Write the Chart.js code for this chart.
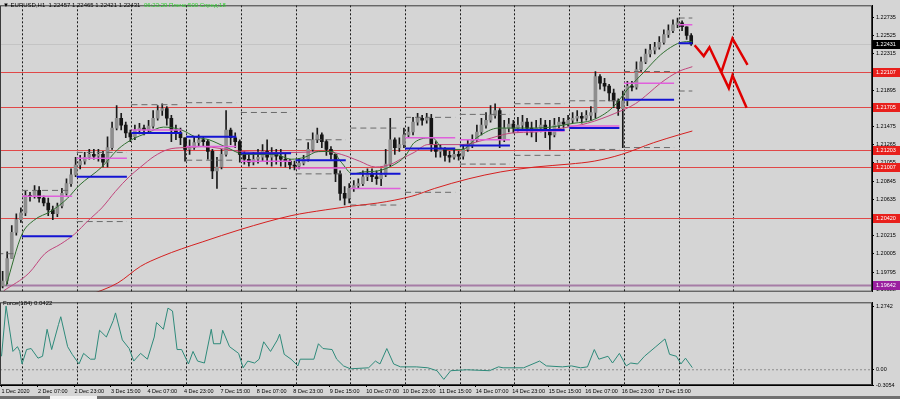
<!DOCTYPE html>
<html lang="en">
<head>
<meta charset="UTF-8">
<title>EURUSD,H1</title>
<script src="https://cdn.jsdelivr.net/npm/chart.js"></script>
<style>
    body {
        margin: 0;
        background: #d5d5d5;
        font-family: 'Liberation Sans', Arial, sans-serif;
        overflow: hidden;
    }
    #wrap {
        position: relative;
        width: 900px;
        height: 399px;
    }
    canvas {
        position: absolute;
        left: 0;
    }
    #main { top: 0; }
    #force { top: 297px; }
    .txt {
        position: absolute;
        font-size: 6px;
        white-space: nowrap;
        color: #000;
    }
    #tabs {
        position: absolute;
        left: 0;
        top: 396px;
        width: 900px;
        height: 3px;
        background: #6f6f6f;
    }
    #tabs div {
        position: absolute;
        left: 50px;
        width: 47px;
        height: 3px;
        background: #f2f2f2;
    }
</style>
</head>
<body>
<div id="wrap">
    <canvas id="main" width="900" height="297"></canvas>
    <canvas id="force" width="900" height="102"></canvas>
    <div class="txt" style="left:3px;top:2px;">&#9660; EURUSD,H1&nbsp; 1.22457 1.22465 1.22421 1.22431</div>
    <div class="txt" style="left:144px;top:2px;color:#2fcf2f;">06:23:29 Плечо:500 Спред:18</div>
    <div class="txt" style="left:3px;top:300px;">Force(184) 0.0422</div>
    <div id="tabs"><div></div></div>
</div>

<script>
    // hourly bar index: 0 = 1 Dec 15:00, weekends skipped
    const tickBars = [0, 16, 32, 48, 64, 80, 96, 112, 128, 144, 160, 176, 192, 208, 224, 240, 256, 272, 288];
    const tickLabels = ['1 Dec 2020', '2 Dec 07:00', '2 Dec 23:00', '3 Dec 15:00', '4 Dec 07:00', '4 Dec 23:00',
        '7 Dec 15:00', '8 Dec 07:00', '8 Dec 23:00', '9 Dec 15:00', '10 Dec 07:00', '10 Dec 23:00',
        '11 Dec 15:00', '14 Dec 07:00', '14 Dec 23:00', '15 Dec 15:00', '16 Dec 07:00', '16 Dec 23:00', '17 Dec 15:00'];
    const gridBars = [9, 33, 57, 81, 105, 129, 153, 177, 201, 225, 249, 273, 297, 321];
    const priceTicks = [1.22735, 1.22525, 1.22315, 1.22105, 1.21895, 1.21685, 1.21475, 1.21265, 1.21055,
        1.20845, 1.20635, 1.20425, 1.20215, 1.20005, 1.19795, 1.19588];
    const forceTicks = [1.2742, 0, -0.3054];

    // 2-hour candles, one every two bars
    const firstOpen = 1.19636;
    const closes = [
        1.19692, 1.19951, 1.20254, 1.20401, 1.20479, 1.20682, 1.20671, 1.20738, 1.20648, 1.20592,
        1.20513, 1.20468, 1.20558, 1.20704, 1.20817, 1.20918, 1.21031, 1.21076, 1.21121, 1.21154,
        1.21132, 1.21154, 1.21064, 1.21233, 1.21458, 1.21571, 1.21492, 1.21402, 1.21357, 1.21436,
        1.21458, 1.21436, 1.21481, 1.21571, 1.21661, 1.21683, 1.21571, 1.21436, 1.21402, 1.21346,
        1.21211, 1.21233, 1.21289, 1.21323, 1.21301, 1.21188, 1.20963, 1.21008, 1.21154, 1.21436,
        1.21346, 1.21301, 1.21154, 1.21098, 1.21064, 1.21098, 1.21121, 1.21188, 1.21121, 1.21154,
        1.21132, 1.21098, 1.21076, 1.21031, 1.21019, 1.21053, 1.21098, 1.21211, 1.21323, 1.21379,
        1.21301, 1.21211, 1.21154, 1.20929, 1.20704, 1.20648, 1.20761, 1.20794, 1.20817, 1.20896,
        1.20929, 1.20896, 1.20873, 1.20918, 1.21042, 1.21323, 1.21233, 1.21267, 1.21379, 1.21413,
        1.21526, 1.21571, 1.21548, 1.21571, 1.21267, 1.21188, 1.21211, 1.21143, 1.21121, 1.21154,
        1.21132, 1.21211, 1.21267, 1.21323, 1.21413, 1.21492, 1.21548, 1.21604, 1.21661, 1.21323,
        1.21458, 1.21503, 1.21458, 1.21492, 1.21526, 1.21458, 1.21413, 1.21458, 1.21492, 1.21436,
        1.21379, 1.21492, 1.21526, 1.21503, 1.21548, 1.21571, 1.21593, 1.21571, 1.21604, 1.21638,
        1.22054, 1.21976, 1.21942, 1.21863, 1.21773, 1.21683, 1.21773, 1.21942, 1.21931, 1.22133,
        1.22223, 1.22313, 1.22358, 1.22392, 1.22448, 1.22538, 1.22583, 1.22651, 1.22673, 1.22628,
        1.22527, 1.22431
    ];
    const highs = [
        1.19804, 1.20029, 1.20333, 1.20468, 1.20536, 1.20727, 1.20716, 1.20794, 1.20783, 1.20671,
        1.20648, 1.20558, 1.20592, 1.20761, 1.20873, 1.20986, 1.21121, 1.21143, 1.21177, 1.21211,
        1.21211, 1.21211, 1.21188, 1.21357, 1.21526, 1.21717, 1.21627, 1.21526, 1.21436, 1.21492,
        1.21514, 1.21492, 1.21548, 1.21661, 1.21717, 1.21739, 1.21706, 1.21604, 1.21492, 1.21458,
        1.21346, 1.21323, 1.21357, 1.21379, 1.21357, 1.21323, 1.21211, 1.21121, 1.21211, 1.21661,
        1.21458, 1.21402, 1.21323, 1.21188, 1.21154, 1.21177, 1.21211, 1.21267, 1.21323, 1.21233,
        1.21211, 1.21211, 1.21154, 1.21098, 1.21076, 1.21109, 1.21143, 1.21289, 1.21402, 1.21458,
        1.21402, 1.21323, 1.21244, 1.21154, 1.20963, 1.20783, 1.20817, 1.20851, 1.20873, 1.20963,
        1.20986, 1.20986, 1.20963, 1.20986, 1.21211, 1.21571, 1.21346, 1.21346, 1.21458, 1.21469,
        1.21582, 1.21627, 1.21604, 1.21627, 1.21616, 1.21301, 1.21267, 1.21233, 1.21188, 1.21211,
        1.21188, 1.21267, 1.21323, 1.21379, 1.21492, 1.21571, 1.21638, 1.21717, 1.21739, 1.21683,
        1.21548, 1.21571, 1.21548, 1.21582, 1.21604, 1.21571, 1.21526, 1.21548, 1.21571, 1.21548,
        1.21548, 1.21571, 1.21582, 1.21571, 1.21604, 1.21638, 1.21661, 1.21638, 1.21661, 1.21706,
        1.22111, 1.22077, 1.22032, 1.21964, 1.21908, 1.21796, 1.21886, 1.21998, 1.21998, 1.22223,
        1.22279, 1.22369, 1.22426, 1.22448, 1.22516, 1.22594, 1.22651, 1.22707, 1.22729, 1.22696,
        1.22628, 1.22549
    ];
    const lows = [
        1.19613, 1.19658, 1.19951, 1.20221, 1.20367, 1.20446, 1.20614, 1.20648, 1.20603, 1.20558,
        1.20446, 1.20401, 1.20434, 1.20536, 1.20682, 1.20783, 1.20896, 1.20986, 1.21042, 1.21098,
        1.21098, 1.21076, 1.21008, 1.21008, 1.21211, 1.21436, 1.21436, 1.21346, 1.21301, 1.21323,
        1.21391, 1.21379, 1.21402, 1.21458, 1.21548, 1.21604, 1.21492, 1.21301, 1.21323, 1.21267,
        1.21076, 1.21154, 1.21211, 1.21256, 1.21244, 1.21098, 1.20873, 1.20761, 1.20986, 1.21132,
        1.21267, 1.21233, 1.21064, 1.21042, 1.21019, 1.21031, 1.21053, 1.21076, 1.21042, 1.21019,
        1.21042, 1.21019, 1.21008, 1.20986, 1.20974, 1.20986, 1.21031, 1.21076, 1.21188, 1.21289,
        1.21233, 1.21143, 1.21098, 1.20839, 1.20626, 1.20569, 1.20592, 1.20727, 1.20761, 1.20794,
        1.20851, 1.20839, 1.20806, 1.20794, 1.20896, 1.21019, 1.21154, 1.21188, 1.21233, 1.21346,
        1.21379, 1.21492, 1.21492, 1.21514, 1.21188, 1.21121, 1.21121, 1.21076, 1.21064, 1.21098,
        1.21087, 1.21098, 1.21188, 1.21233, 1.21301, 1.21379, 1.21458, 1.21526, 1.21571, 1.21233,
        1.21301, 1.21413, 1.21402, 1.21413, 1.21436, 1.21379, 1.21357, 1.21301, 1.21413, 1.21346,
        1.21211, 1.21357, 1.21458, 1.21458, 1.21481, 1.21514, 1.21537, 1.21514, 1.21548, 1.21548,
        1.21571, 1.21908, 1.21886, 1.21773, 1.21694, 1.21604, 1.21233, 1.21717, 1.21886, 1.21908,
        1.22111, 1.22201, 1.22279, 1.22313, 1.22369, 1.22426, 1.22504, 1.22561, 1.22617, 1.22583,
        1.22482, 1.22414
    ];

    // moving averages, sampled
    const fastMaBars = [2, 9, 14, 22, 29, 34, 44, 51, 57, 64, 71, 79, 85, 91, 98, 107, 120, 127, 133, 139,
        145, 149, 154, 159, 165, 171, 177, 181, 189, 194, 202, 209, 218, 234, 241, 251, 259, 268, 275, 282,
        289, 295, 298, 303];
    const fastMaValues = [1.19636, 1.20232, 1.20389, 1.20502, 1.20648, 1.20794, 1.21008, 1.21211, 1.21323, 1.21402,
        1.21469, 1.21436, 1.21357, 1.21323, 1.21244, 1.21154, 1.21154, 1.21098, 1.21121, 1.21188,
        1.21188, 1.21064, 1.20929, 1.20952, 1.20963, 1.21019, 1.21132, 1.21289, 1.21346, 1.21211,
        1.21211, 1.21357, 1.21458, 1.21458, 1.21469, 1.21514, 1.21548, 1.21694, 1.21919, 1.22111,
        1.22302, 1.22414, 1.22448, 1.22459];
    const midMaBars = [1, 12, 19, 26, 32, 38, 44, 50, 56, 61, 67, 73, 80, 88, 105, 120, 130, 142, 149, 157,
        164, 171, 175, 181, 187, 202, 212, 224, 234, 246, 257, 269, 278, 284, 289, 297, 303];
    const midMaValues = [1.19579, 1.19782, 1.20007, 1.20119, 1.20232, 1.20389, 1.20536, 1.20727, 1.20896, 1.21008,
        1.21132, 1.21211, 1.21233, 1.21244, 1.21188, 1.21177, 1.21177, 1.21188, 1.21154, 1.21076,
        1.21008, 1.21042, 1.21098, 1.21177, 1.21267, 1.21267, 1.21323, 1.21402, 1.21413, 1.21458,
        1.21514, 1.21627, 1.21739, 1.21863, 1.21976, 1.22111, 1.22167];
    const slowMaBars = [38, 51, 61, 70, 79, 88, 105, 127, 142, 154, 165, 180, 190, 205, 219, 234, 249, 260, 272, 286, 297, 303];
    const slowMaValues = [1.19523, 1.19669, 1.19861, 1.19973, 1.20063, 1.20142, 1.20288, 1.20446, 1.20513, 1.20558,
        1.20592, 1.20671, 1.20761, 1.20873, 1.20952, 1.21008, 1.21042, 1.21076, 1.21154, 1.21289, 1.21379, 1.21424];

    // daily levels (day 0 = 1 Dec)
    const dayStarts = [-15, 9, 33, 57, 81, 105, 129, 153, 177, 201, 225, 249, 273, 297];
    const blueLevels = [null, 1.20209, 1.20896, 1.21402, 1.21357, 1.21166, 1.21087, 1.20929, 1.21222, 1.21256, 1.21436, 1.21458, 1.21784, 1.22437];
    const pinkLevels = [null, 1.20671, 1.21109, 1.21436, 1.21244, 1.21076, 1.20997, 1.20761, 1.21346, 1.21323, 1.21424, 1.21481, 1.21976, 1.22651];
    const prevHighs = [1.20007, 1.20738, 1.21177, 1.21728, 1.21751, 1.21638, 1.21323, 1.21458, 1.21582, 1.21616, 1.21739, 1.21773, 1.22111, 1.22729];
    const prevLows = [null, null, 1.20378, null, 1.21087, 1.20761, 1.20929, 1.20569, 1.20716, 1.21042, 1.21143, 1.21211, 1.21233, 1.21886];

    const redLevels = [1.22107, 1.21705, 1.21203, 1.21007, 1.20420];
    const purpleLevel = 1.19642;
    const lastPrice = 1.22431;

    // hand-drawn forecast
    const pathABars = [304, 308, 310.5, 319, 320.6, 326.8];
    const pathAValues = [1.22414, 1.22290, 1.22392, 1.21919, 1.22066, 1.21694];
    const pathBBars = [315.8, 320.6, 327.2];
    const pathBValues = [1.22111, 1.22493, 1.22189];

    const forceBars = [0, 2, 5, 7, 8, 9, 11, 13, 16, 18, 20, 22, 25, 26, 29, 31, 34, 36, 39, 41,
        43, 46, 49, 50, 53, 56, 58, 61, 64, 67, 68, 71, 73, 75, 77, 79, 82, 84, 86, 89,
        92, 93, 96, 97, 100, 104, 106, 108, 111, 113, 115, 118, 121, 122, 124, 127, 130, 131, 137, 139,
        141, 145, 147, 150, 153, 161, 164, 166, 169, 172, 175, 182, 187, 191, 194, 197, 204, 214, 218, 220,
        229, 236, 239, 246, 250, 254, 257, 260, 262, 266, 268, 271, 274, 276, 279, 282, 287, 291, 293, 296,
        298, 300, 303];
    const forceValues = [0.270, 1.2742, 0.367, 0.463, 0.367, 0.116, 0.405, 0.425, 0.232, 0.270,
        0.811, 0.405, 0.907, 1.062, 0.463, 0.309, 0.116, 0.328, 0.212, 0.212,
        0.791, 0.656, 0.984, 1.139, 0.598, 0.425, 0.174, 0.328, 0.212, 0.656,
        0.946, 0.811, 1.235, 1.177, 0.405, 0.405, 0.116, 0.367, 0.174, 0.135,
        0.811, 0.521, 0.521, 0.791, 0.463, 0.328, 0.039, 0.174, 0.135, 0.212,
        0.560, 0.367, 0.598, 0.714, 0.309, 0.212, 0.077, 0.212, 0.212, 0.521,
        0.425, 0.405, 0.212, 0.077, 0.019, 0.039, 0.174, 0.116, 0.425, 0.116,
        0.058, 0.058, 0.039, -0.019, -0.193, -0.019, 0.000, -0.019, 0.058, 0.039,
        0.039, 0.174, 0.077, 0.058, 0.077, 0.039, 0.058, 0.405, 0.212, 0.270,
        0.135, 0.328, 0.077, 0.135, 0.116, 0.270, 0.463, 0.618, 0.309, 0.270,
        0.116, 0.232, 0.0422];

    const xMin = -0.66, xMax = 381.8;
    const lastBar = 303;
    const tickFont = { family: 'Liberation Sans', size: 5.5 };

    Chart.defaults.font.family = 'Liberation Sans';
    Chart.defaults.color = '#000';

    const toPoints = (bars, vals) => bars.map((b, i) => ({ x: b, y: vals[i] }));

    // one dataset of flat day segments, broken with nulls
    function daySegments(levels) {
        const pts = [];
        levels.forEach((v, i) => {
            if (v === null) return;
            const s = dayStarts[i], e = Math.min(s + 22, lastBar);
            pts.push({ x: s, y: v }, { x: e, y: v }, { x: e + 0.1, y: null });
        });
        return pts;
    }

    const opens = closes.map((c, j) => j === 0 ? firstOpen : closes[j - 1]);
    const wickData = closes.map((c, j) => ({ x: 2 * j + 0.5, y: [lows[j], highs[j]] }));
    const bodyData = closes.map((c, j) => ({ x: 2 * j + 0.5, y: [opens[j], c] }));
    const bodyColors = closes.map((c, j) => c >= opens[j] ? '#8e8e8e' : '#151515');

    const dayGrid = {
        id: 'dayGrid',
        beforeDatasetsDraw(chart) {
            const { ctx, chartArea: a, scales: { x } } = chart;
            ctx.save();
            ctx.strokeStyle = '#1a1a1a';
            ctx.lineWidth = 1;
            ctx.setLineDash([2, 2]);
            gridBars.forEach(b => {
                const px = Math.round(x.getPixelForValue(b)) + 0.5;
                ctx.beginPath();
                ctx.moveTo(px, a.top);
                ctx.lineTo(px, a.bottom);
                ctx.stroke();
            });
            ctx.restore();
        }
    };

    const frame = {
        id: 'frame',
        afterDraw(chart) {
            const { ctx, chartArea: a } = chart;
            ctx.save();
            ctx.strokeStyle = '#3a3a3a';
            ctx.lineWidth = 1;
            ctx.strokeRect(a.left + 0.5, a.top + 0.5, a.width - 1, a.height - 1);
            ctx.restore();
        }
    };

    const levels = {
        id: 'levels',
        beforeDatasetsDraw(chart) {
            const { ctx, chartArea: a, scales: { y } } = chart;
            ctx.save();
            const line = (v, color, w) => {
                const py = Math.round(y.getPixelForValue(v)) + 0.5;
                ctx.strokeStyle = color;
                ctx.lineWidth = w;
                ctx.beginPath();
                ctx.moveTo(a.left, py);
                ctx.lineTo(a.right, py);
                ctx.stroke();
            };
            line(lastPrice, '#c4c4c4', 1);
            redLevels.forEach(v => line(v, '#e04848', 1));
            line(purpleLevel, '#a67ca6', 2);
            ctx.restore();
        },
        afterDraw(chart) {
            const { ctx, chartArea: a, scales: { y } } = chart;
            ctx.save();
            ctx.font = '5.5px "Liberation Sans"';
            ctx.textBaseline = 'middle';
            const tag = (v, bg) => {
                const py = Math.round(y.getPixelForValue(v));
                ctx.fillStyle = bg;
                ctx.fillRect(a.right + 1, py - 4, 27, 9);
                ctx.fillStyle = '#fff';
                ctx.fillText(v.toFixed(5), a.right + 4, py + 0.5);
            };
            redLevels.forEach(v => tag(v, '#e8201c'));
            tag(purpleLevel, '#9a1f9f');
            tag(lastPrice, '#000');
            ctx.restore();
        }
    };

    new Chart(document.getElementById('main'), {
        type: 'bar',
        data: {
            datasets: [
                { type: 'line', data: toPoints(pathABars, pathAValues), borderColor: '#e00000', borderWidth: 2.5, pointRadius: 0, order: 0 },
                { type: 'line', data: toPoints(pathBBars, pathBValues), borderColor: '#e00000', borderWidth: 2.5, pointRadius: 0, order: 0 },
                { type: 'line', data: daySegments(blueLevels), borderColor: '#1414d2', borderWidth: 2, pointRadius: 0, spanGaps: false, order: 1 },
                { type: 'line', data: daySegments(pinkLevels), borderColor: '#e060dc', borderWidth: 1.5, pointRadius: 0, spanGaps: false, order: 1 },
                { type: 'line', data: toPoints(fastMaBars, fastMaValues), borderColor: '#2f6e2f', borderWidth: 1, pointRadius: 0, cubicInterpolationMode: 'monotone', order: 2 },
                { type: 'line', data: toPoints(midMaBars, midMaValues), borderColor: '#c0457c', borderWidth: 1, pointRadius: 0, cubicInterpolationMode: 'monotone', order: 2 },
                { type: 'line', data: toPoints(slowMaBars, slowMaValues), borderColor: '#d42020', borderWidth: 1, pointRadius: 0, cubicInterpolationMode: 'monotone', order: 2 },
                { type: 'line', data: daySegments(prevHighs), borderColor: '#6a6a6a', borderWidth: 1, borderDash: [6, 4], pointRadius: 0, spanGaps: false, order: 3 },
                { type: 'line', data: daySegments(prevLows), borderColor: '#6a6a6a', borderWidth: 1, borderDash: [6, 4], pointRadius: 0, spanGaps: false, order: 3 },
                { data: bodyData, backgroundColor: bodyColors, barThickness: 3, grouped: false, order: 4 },
                { data: wickData, backgroundColor: '#1a1a1a', barThickness: 1, grouped: false, order: 5 }
            ]
        },
        options: {
            responsive: false,
            animation: false,
            events: [],
            layout: { padding: { top: 2, bottom: 1, left: 0, right: 0 } },
            plugins: { legend: { display: false }, tooltip: { enabled: false } },
            scales: {
                x: { type: 'linear', min: xMin, max: xMax, offset: false, display: false },
                y: {
                    position: 'right',
                    min: 1.19568,
                    max: 1.22876,
                    afterBuildTicks: s => { s.ticks = priceTicks.map(v => ({ value: v })); },
                    afterFit: s => { s.width = 28; },
                    ticks: { autoSkip: false, font: tickFont, padding: 2, callback: v => v.toFixed(5) },
                    grid: { drawOnChartArea: false, drawTicks: true, tickLength: 2, color: '#000' },
                    border: { display: true, color: '#000' }
                }
            }
        },
        plugins: [dayGrid, levels, frame]
    });

    new Chart(document.getElementById('force'), {
        type: 'line',
        data: {
            datasets: [
                { data: toPoints(forceBars, forceValues), borderColor: '#2e8a7a', borderWidth: 1, pointRadius: 0 },
                { data: [{ x: xMin, y: 0 }, { x: xMax, y: 0 }], borderColor: '#8c8c8c', borderWidth: 1, borderDash: [2, 2], pointRadius: 0 }
            ]
        },
        options: {
            responsive: false,
            animation: false,
            events: [],
            layout: { padding: { top: 2, bottom: 0, left: 0, right: 0 } },
            plugins: { legend: { display: false }, tooltip: { enabled: false } },
            scales: {
                x: {
                    type: 'linear', min: xMin, max: xMax, offset: false,
                    afterBuildTicks: s => { s.ticks = tickBars.map(v => ({ value: v })); },
                    afterFit: s => { s.height = 14; },
                    ticks: { autoSkip: false, maxRotation: 0, align: 'start', padding: 1, font: tickFont,
                        callback: (v, i) => tickLabels[i] },
                    grid: { drawOnChartArea: false, drawTicks: true, tickLength: 2, color: '#000' },
                    border: { display: true, color: '#000' }
                },
                y: {
                    position: 'right',
                    min: -0.3054,
                    max: 1.3514,
                    afterBuildTicks: s => { s.ticks = forceTicks.map(v => ({ value: v })); },
                    afterFit: s => { s.width = 28; },
                    ticks: { autoSkip: false, font: tickFont, padding: 2,
                        callback: v => v === 0 ? '0.00' : String(v) },
                    grid: { drawOnChartArea: false, drawTicks: true, tickLength: 2, color: '#000' },
                    border: { display: true, color: '#000' }
                }
            }
        },
        plugins: [dayGrid, frame]
    });
</script>
</body>
</html>
